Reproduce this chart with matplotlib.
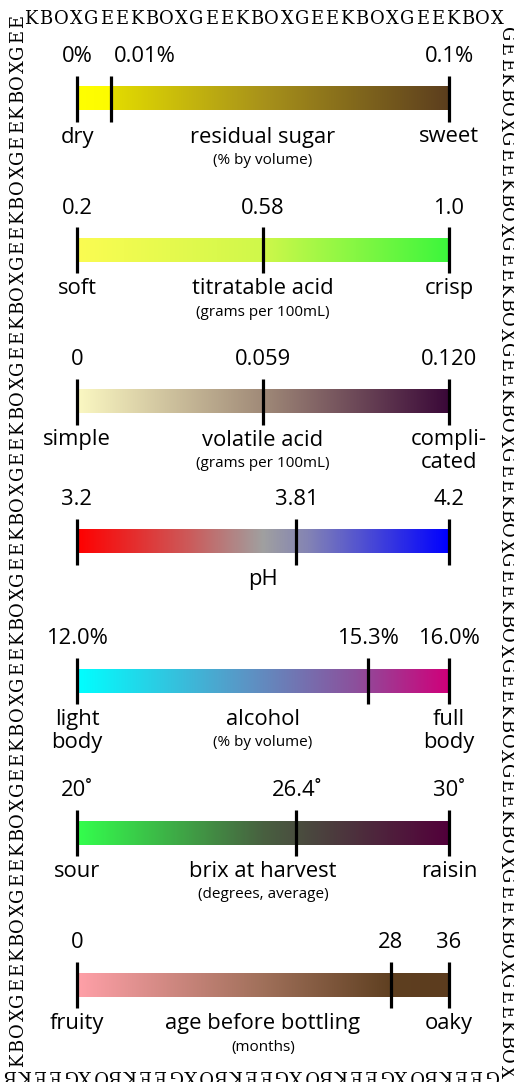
import numpy as np
import matplotlib
matplotlib.use("Agg")
import matplotlib.pyplot as plt
from matplotlib.colors import LinearSegmentedColormap

# ── data ──────────────────────────────────────────────────────────────────────
names      = ["residual sugar", "titratable acid", "volatile acid", "pH",
              "alcohol", "brix at harvest", "age before bottling"]
subtitles  = ["(% by volume)", "(grams per 100mL)", "(grams per 100mL)", "",
              "(% by volume)", "(degrees, average)", "(months)"]
low_words  = ["dry", "soft", "simple", "", "light\nbody", "sour", "fruity"]
high_words = ["sweet", "crisp", "compli-\ncated", "", "full\nbody", "raisin", "oaky"]
tick_labels = [
    ["0%", "0.01%", "0.1%"],
    ["0.2", "0.58", "1.0"],
    ["0", "0.059", "0.120"],
    ["3.2", "3.81", "4.2"],
    ["12.0%", "15.3%", "16.0%"],
    ["20\u02da", "26.4\u02da", "30\u02da"],
    ["0", "28", "36"],
]
# where the marked value sits along each bar (0 = left end, 1 = right end)
marker_pos = [0.091, 0.50, 0.50, 0.59, 0.782, 0.59, 0.844]

# gradient stops per bar
gradients = [
    [(0.0, "#ffff00"), (0.089, "#fdfb00"), (0.092, "#e3dc00"), (0.5, "#a8921a"), (1.0, "#5c3e1e")],
    [(0.0, "#fbfc52"), (0.5, "#cff84a"), (1.0, "#3cf63c")],
    [(0.0, "#fbf8c2"), (0.5, "#a08a78"), (1.0, "#3a0838")],
    [(0.0, "#ff0000"), (0.3, "#cc5a5a"), (0.5, "#a0a0a0"), (0.62, "#8484b4"), (1.0, "#0000ff")],
    [(0.0, "#00ffff"), (0.45, "#5a96c6"), (0.75, "#8c509c"), (1.0, "#d0007a")],
    [(0.0, "#33ff4d"), (0.5, "#486040"), (1.0, "#52003a")],
    [(0.0, "#ffa0a8"), (0.5, "#a0705a"), (0.85, "#5e3f20"), (1.0, "#5c3c1e")],
]

BORDER_WORD = "GEEKBOX"

# ── layout (pixels) ───────────────────────────────────────────────────────────
W, H = 514, 1082
BAR_X0, BAR_W = 77, 372
centers = [98.5, 250, 401.5, 541.5, 681, 833, 985]
HALF = 70

FONT = "Open Sans"
BIG, SMALL = 15.8, 11.0

fig = plt.figure(figsize=(W / 100, H / 100), dpi=100)
fig.patch.set_facecolor("white")

grad = np.linspace(0, 1, 512)[None, :]

for i, c in enumerate(centers):
    ax = fig.add_axes([BAR_X0 / W, (H - c - HALF) / H, BAR_W / W, 2 * HALF / H])
    cmap = LinearSegmentedColormap.from_list(f"g{i}", gradients[i])
    ax.imshow(grad, cmap=cmap, extent=(0, 1, -12, 12), aspect="auto",
              interpolation="bilinear")
    ax.vlines([0, marker_pos[i], 1], -23, 23, color="black", lw=2.3,
              clip_on=False)
    ax.set_xlim(0, 1)
    ax.set_ylim(-HALF, HALF)
    ax.axis("off")

    xs = [0, marker_pos[i], 1]
    for j, (x, lab) in enumerate(zip(xs, tick_labels[i])):
        ha = "center"
        if i == 0 and j == 1:       # 0.01% is nudged right of its tick
            x, ha = x + 0.008, "left"
        ax.text(x, 42, lab, ha=ha, va="center", fontsize=BIG, family=FONT,
                clip_on=False)

    ax.text(0.5, -38.5, names[i], ha="center", va="center", fontsize=BIG,
            family=FONT)
    if subtitles[i]:
        ax.text(0.5, -62, subtitles[i], ha="center", va="center",
                fontsize=SMALL, family=FONT)
    for x, word in [(0, low_words[i]), (1, high_words[i])]:
        for k, line in enumerate(word.split("\n")):
            if line:
                ax.text(x, -38.5 - 23 * k, line, ha="center", va="center",
                        fontsize=BIG, family=FONT, clip_on=False)

# ── GEEKBOX border, running clockwise ─────────────────────────────────────────
BFONT = dict(family="DejaVu Serif", fontsize=13, color="black",
             ha="center", va="center")
pos = 3  # top row starts on the K


def put(x, y, rot):
    global pos
    fig.text(x / W, 1 - y / H, BORDER_WORD[pos % 7], rotation=rot, **BFONT)
    pos += 1


for k in range(32):                 # top, left -> right
    put(31 + 15.05 * k, 19.5, 0)
for k in range(70):                 # right, top -> bottom
    put(506, 34 + 15.04 * k, -90)
for k in range(33):                 # bottom, right -> left
    put(491 - 15.05 * k, 1075, 180)
pos = 3
for k in range(70):                 # left, bottom -> top
    put(18.5, 1060 - 15.05 * k, 90)

fig.savefig("out.png", dpi=100, facecolor="white")
